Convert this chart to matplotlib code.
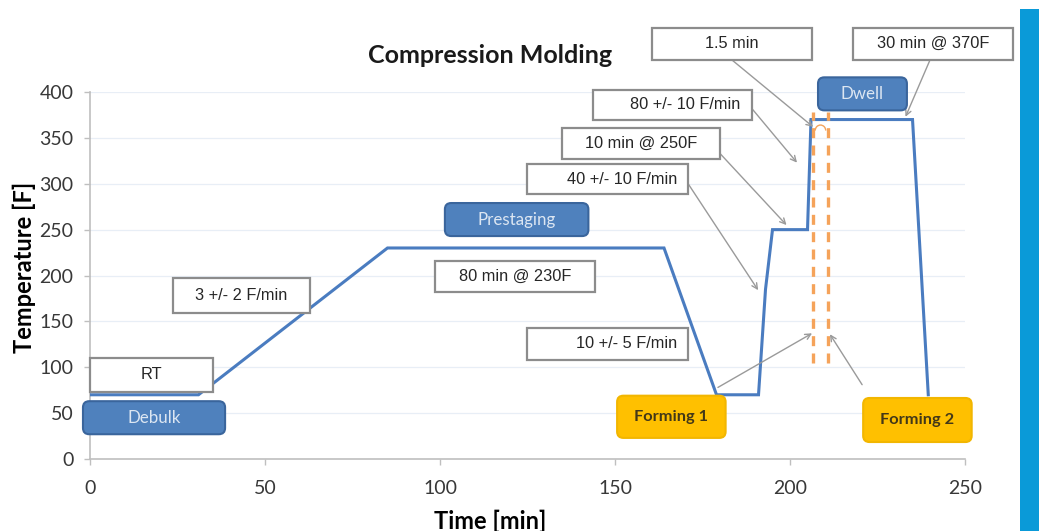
import numpy as np
import matplotlib.pyplot as plt
from matplotlib.patches import FancyBboxPatch, Rectangle, Arc

# cure profile
time_min = [0, 31, 85, 164, 179, 191, 193, 195, 205, 206, 235, 239.5]
temp_f = [70, 70, 230, 230, 70, 70, 185, 250, 250, 370, 370, 70]

# Forming marker lines (dashed)
form_times = [206.6, 210.9]
form_span = [105, 378]

x_ticks = [0, 50, 100, 150, 200, 250]
y_ticks = [0, 50, 100, 150, 200, 250, 300, 350, 400]

LINE_BLUE = '#4a7cc0'
BOX_BLUE = '#4f81bd'
ORANGE = '#f5a35a'
GOLD = '#ffc000'
ARROW = '#9a9a9a'

TXT_FONT = ['Liberation Sans', 'DejaVu Sans']
CAL_FONT = ['Lato', 'DejaVu Sans']

fig = plt.figure(figsize=(10.39, 5.31), dpi=100)
ax = fig.add_axes([0.0866, 0.1356, 0.8422, 0.6911])

ax.plot(time_min, temp_f, color=LINE_BLUE, lw=2.2, zorder=3, solid_joinstyle='miter')
for t in form_times:
    ax.plot([t, t], form_span, color=ORANGE, lw=2.4, ls=(0, (3, 2.2)), zorder=3)
ax.add_patch(Arc((208.7, 358), 3.0, 12, theta1=0, theta2=180, color=ORANGE, lw=1.0, zorder=3))

ax.set_xlim(0, 250)
ax.set_ylim(0, 400)
ax.set_xticks(x_ticks)
ax.set_yticks(y_ticks)
ax.grid(axis='y', color='#e8eef6', lw=0.9)
ax.set_axisbelow(True)
for s in ['top', 'right']:
    ax.spines[s].set_visible(False)
for s in ['left', 'bottom']:
    ax.spines[s].set_color('#bfbfbf')
    ax.spines[s].set_linewidth(1.2)
ax.tick_params(colors='#bfbfbf', length=4, width=1, labelcolor='#383838', labelsize=14)
ax.tick_params(axis='x', pad=11)
ax.tick_params(axis='y', pad=8)
for lab in ax.get_xticklabels() + ax.get_yticklabels():
    lab.set_family(CAL_FONT)

ax.set_xlabel('Time [min]', fontsize=17, fontweight='bold', family=CAL_FONT)
ax.set_ylabel('Temperature [F]', fontsize=17, fontweight='bold', family=CAL_FONT)
ax.xaxis.set_label_coords(0.457, -0.137)
ax.yaxis.set_label_coords(-0.062, 0.523)
fig.text(0.472, 0.896, 'Compression Molding', ha='center', va='center',
         fontsize=18, fontweight='bold', family=CAL_FONT, color='#1a1a1a')


def text_box(cx, cy, w, h, txt, right=False):
    ax.add_patch(Rectangle((cx - w / 2, cy - h / 2), w, h, facecolor='white',
                           edgecolor='#8c8c8c', lw=1.6, zorder=5, clip_on=False))
    if right:
        ax.text(cx + w / 2 - 3.2, cy, txt, ha='right', va='center', fontsize=11.8,
                family=TXT_FONT, color='#262626', zorder=6, clip_on=False)
    else:
        ax.text(cx, cy, txt, ha='center', va='center', fontsize=11.8, family=TXT_FONT,
                color='#262626', zorder=6, clip_on=False)


def round_box(cx, cy, w, h, txt, face, edge, tcolor, bold=False):
    ax.add_patch(FancyBboxPatch((cx - w / 2, cy - h / 2), w, h,
                                boxstyle='round,pad=0,rounding_size=1.8',
                                mutation_aspect=3.8, facecolor=face, edgecolor=edge,
                                lw=1.5, zorder=5, clip_on=False))
    ax.text(cx, cy, txt, ha='center', va='center', fontsize=12.2 if not bold else 11.8,
            family=CAL_FONT, color=tcolor, fontweight='bold' if bold else 'normal',
            zorder=6, clip_on=False)


def arrow(x0, y0, x1, y1):
    ax.annotate('', xy=(x1, y1), xytext=(x0, y0),
                arrowprops=dict(arrowstyle='->', color=ARROW, lw=1.0,
                                shrinkA=0, shrinkB=0), zorder=4, annotation_clip=False)


# arrows first so boxes sit on top
arrow(170.9, 300, 190.9, 184)
arrow(180.0, 333, 199.0, 255)
arrow(189.1, 382, 202.0, 323)
arrow(183.4, 435, 206.6, 362)
arrow(240.0, 435, 233.0, 373)
arrow(179.4, 78, 206.3, 137)
arrow(220.6, 81, 211.4, 136)

text_box(17.6, 91.6, 35, 37, 'RT')
text_box(43.3, 178, 39, 38, '3 +/- 2 F/min')
text_box(121.4, 199, 45.7, 34, '80 min @ 230F')
text_box(147.9, 125.5, 46, 35, '10 +/- 5 F/min', right=True)
text_box(147.9, 305, 46, 33, '40 +/- 10 F/min', right=True)
text_box(157.4, 344, 45, 34, '10 min @ 250F')
text_box(166.4, 386, 45.4, 33, '80 +/- 10 F/min', right=True)
text_box(183.4, 452.5, 45.7, 35, '1.5 min')
text_box(240.9, 452.5, 45.7, 35, '30 min @ 370F')

round_box(121.9, 261, 41, 36, 'Prestaging', BOX_BLUE, '#3a659c', '#dce6f2')
round_box(18.3, 45, 40.6, 36, 'Debulk', BOX_BLUE, '#3a659c', '#dce6f2')
round_box(220.7, 398, 25.4, 36, 'Dwell', BOX_BLUE, '#3a659c', '#dce6f2')
round_box(166.1, 46, 31, 46, 'Forming 1', GOLD, '#f2b600', '#433818', bold=True)
round_box(236.4, 42.5, 31, 48, 'Forming 2', GOLD, '#f2b600', '#433818', bold=True)

# blue side bar of the slide
fig.add_artist(Rectangle((1020 / 1039, 0), 19 / 1039, 1 - 9 / 531,
                         transform=fig.transFigure, facecolor='#0a9ad8',
                         edgecolor='none'))

fig.savefig('out.png', dpi=100)
